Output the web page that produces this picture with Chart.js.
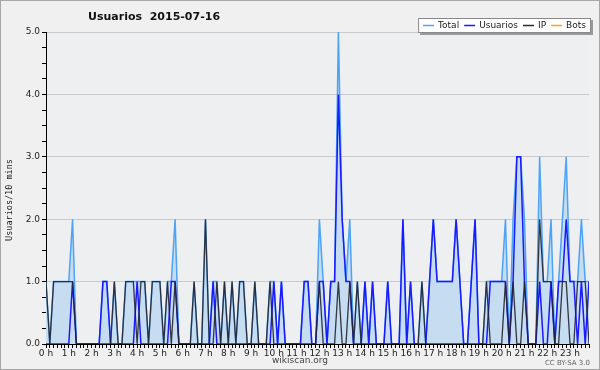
<!DOCTYPE html>
<html><head><meta charset="utf-8">
<script src="https://cdn.jsdelivr.net/npm/chart.js@4"></script>
<style>html,body{margin:0;padding:0;background:#f0f0f0}#wrap{width:600px;height:370px}</style>
</head><body><div id="wrap"><canvas id="c" width="600" height="370"></canvas></div>
<script>
// 10-minute slots, 0..143
const total = [1,0,1,1,1,1,1,2,0,0,0,0,0,0,0,1,1,0,1,0,0,1,1,1,1,1,1,0,1,1,1,0,1,1,2,0,0,0,0,1,0,0,2,0,1,1,0,1,0,1,0,1,1,0,0,1,0,0,0,1,1,0,1,0,0,0,0,0,1,1,0,0,2,1,0,1,1,5,2,1,2,0,1,0,1,0,1,0,0,0,1,0,0,0,2,0,1,0,0,1,0,1,2,1,1,1,1,1,2,1,0,0,1,2,0,0,1,1,1,1,1,2,0,2,3,3,2,0,0,0,3,1,1,2,0,1,2,3,1,1,1,2,1,1];
const usuarios = [0,0,0,0,0,0,0,1,0,0,0,0,0,0,0,1,1,0,0,0,0,0,0,0,1,0,0,0,0,0,0,0,0,1,1,0,0,0,0,0,0,0,0,0,1,0,0,0,0,0,0,0,0,0,0,0,0,0,0,0,1,0,1,0,0,0,0,0,1,1,0,0,1,1,0,1,1,4,2,1,1,0,0,0,1,0,1,0,0,0,1,0,0,0,2,0,1,0,0,0,0,1,2,1,1,1,1,1,2,1,0,0,1,2,0,0,0,1,1,1,1,1,0,1,3,3,1,0,0,0,1,0,0,1,0,1,1,2,1,1,0,1,0,1];
const ip = [1,0,1,1,1,1,1,1,0,0,0,0,0,0,0,0,0,0,1,0,0,1,1,1,0,1,1,0,1,1,1,0,1,0,1,0,0,0,0,1,0,0,2,0,0,1,0,1,0,1,0,1,1,0,0,1,0,0,0,1,0,0,0,0,0,0,0,0,0,0,0,0,1,0,0,0,0,1,0,0,1,0,1,0,0,0,0,0,0,0,0,0,0,0,0,0,0,0,0,1,0,0,0,0,0,0,0,0,0,0,0,0,0,0,0,0,1,0,0,0,0,1,0,1,0,0,1,0,0,0,2,1,1,1,0,0,1,1,0,0,1,1,1,0];
const bots = new Array(144).fill(0);
const hourLabels = ['0 h','1 h','2 h','3 h','4 h','5 h','6 h','7 h','8 h','9 h','10 h','11 h','12 h','13 h','14 h','15 h','16 h','17 h','18 h','19 h','20 h','21 h','22 h','23 h'];
const yLabels = ['0.0','1.0','2.0','3.0','4.0','5.0'];
const legendItems = [['Total','#4da3f5'],['Usuarios','#1a1aff'],['IP','#2a2a33'],['Bots','#ffa500']];

const pts = arr => arr.map((v,i)=>({x:i,y:v}));

const deco = {
  id:'deco',
  beforeDraw(chart){
    const c = chart.ctx, a = chart.chartArea;
    c.save();
    c.fillStyle='#f0f0f0'; c.fillRect(0,0,600,370);
    c.fillStyle='#eeeff1'; c.fillRect(a.left,a.top,a.right-a.left,a.bottom-a.top);
    c.strokeStyle='#a8a8a8'; c.lineWidth=1; c.strokeRect(0.5,0.5,599,369);
    c.restore();
  },
  afterDraw(chart){
    const c = chart.ctx;
    c.save();
    c.fillStyle='#111'; c.font='bold 11px "DejaVu Sans"'; c.textBaseline='middle'; c.textAlign='left';
    c.fillText('Usuarios  2015-07-16', 88, 17);
    // y axis title
    c.save();
    c.translate(10, 200); c.rotate(-Math.PI/2);
    c.font='8.5px "DejaVu Sans Mono"'; c.fillStyle='#222'; c.textAlign='center'; c.textBaseline='middle';
    c.fillText('Usuarios/10 mins', 0, 0);
    c.restore();
    // legend box
    c.font='9px "DejaVu Sans"';
    const lineW=11, g1=4, g2=5, pad=5;
    let w = pad;
    legendItems.forEach(it=>{ w += lineW + g1 + c.measureText(it[0]).width + g2; });
    w += pad - g2;
    const bh=15, by=18, bx=591-w;
    c.fillStyle='#9a9a9a'; c.fillRect(bx+2,by+2,w,bh);
    c.fillStyle='#ffffff'; c.fillRect(bx,by,w,bh);
    c.strokeStyle='#888'; c.lineWidth=1; c.strokeRect(bx+0.5,by+0.5,w-1,bh-1);
    c.textBaseline='middle'; c.textAlign='left';
    let x = bx + pad;
    legendItems.forEach(it=>{
      c.strokeStyle=it[1]; c.lineWidth=1.5;
      c.beginPath(); c.moveTo(x,by+bh/2); c.lineTo(x+lineW,by+bh/2); c.stroke();
      x += lineW + g1;
      c.fillStyle='#222'; c.fillText(it[0], x, by+bh/2+0.5);
      x += c.measureText(it[0]).width + g2;
    });
    c.font='9px "DejaVu Sans"'; c.fillStyle='#444'; c.textAlign='center';
    c.fillText('wikiscan.org', 300, 361);
    c.font='7px "DejaVu Sans"'; c.fillStyle='#666'; c.textAlign='right';
    c.fillText('CC BY-SA 3.0', 590, 363);
    c.restore();
  }
};

new Chart(document.getElementById('c'), {
  type:'line',
  data:{datasets:[
    {label:'IP', data:pts(ip), borderColor:'rgba(35,35,45,0.9)', borderWidth:1.3, pointRadius:0, tension:0, order:1},
    {label:'Usuarios', data:pts(usuarios), borderColor:'#1a1aff', borderWidth:1.5, pointRadius:0, tension:0, order:2},
    {label:'Total', data:pts(total), borderColor:'#4da3f5', backgroundColor:'#c6dcf0', fill:'origin', borderWidth:1.5, pointRadius:0, tension:0, order:3},
    {label:'Bots', data:pts(bots), borderColor:'#ffa500', borderWidth:1, pointRadius:0, tension:0, order:4}
  ]},
  options:{
    responsive:false, animation:false, devicePixelRatio:1,
    layout:{padding:{top:32,right:11,left:0,bottom:0}},
    plugins:{legend:{display:false}, title:{display:false}, tooltip:{enabled:false}},
    scales:{
      x:{type:'linear', min:0, max:143, z:1,
        border:{color:'#000',width:1},
        grid:{drawOnChartArea:false, tickLength:4, tickColor:'#000'},
        ticks:{stepSize:1, autoSkip:false, maxRotation:0, minRotation:0, padding:0,
          callback:v=> (v%6===0 ? hourLabels[v/6] : ''),
          font:{family:'DejaVu Sans', size:9}, color:'#222'},
        afterFit:s=>{s.height=26;}
      },
      y:{min:0, max:5,
        border:{color:'#000',width:1},
        grid:{color:ctx=> (ctx.tick && Number.isInteger(ctx.tick.value) && ctx.tick.value>0 ? '#cacaca' : 'rgba(0,0,0,0)'), tickColor:'#000', tickLength:4},
        ticks:{stepSize:0.25, autoSkip:false, padding:2,
          callback:v=> (Number.isInteger(v) ? yLabels[v] : ''),
          font:{family:'DejaVu Sans', size:9}, color:'#222'},
        afterFit:s=>{s.width=46;}
      }
    }
  },
  plugins:[deco]
});
</script></body></html>
